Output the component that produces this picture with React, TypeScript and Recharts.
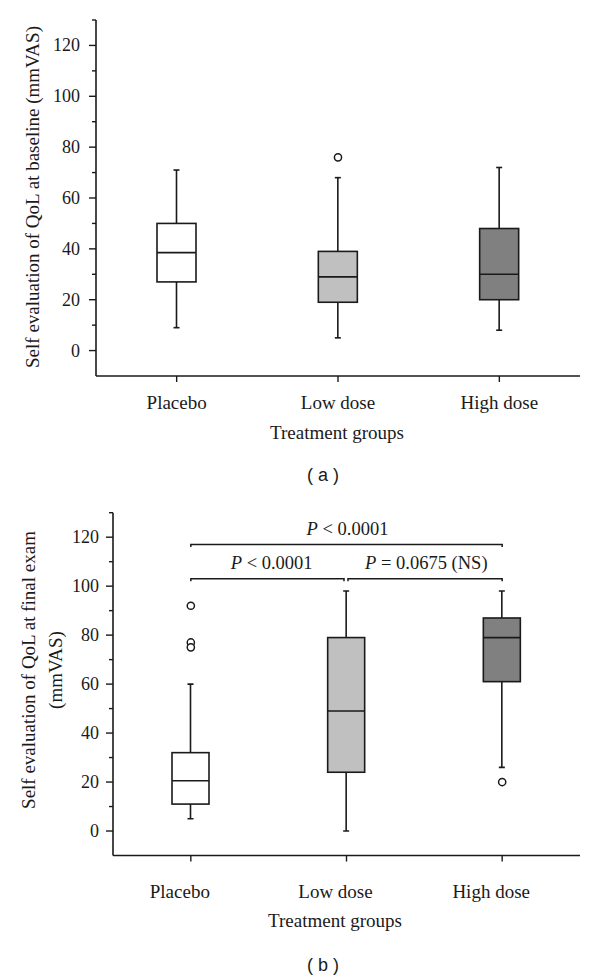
import React from 'react';
import { ComposedChart, Bar, Scatter, XAxis, YAxis, ReferenceLine } from 'recharts';

// ---------- data ----------
const groups = ['Placebo', 'Low dose', 'High dose'];

// Panel (a): baseline
const baselineMin = [9, 5, 8];
const baselineQ1 = [27, 19, 20];
const baselineMedian = [38.5, 29, 30];
const baselineQ3 = [50, 39, 48];
const baselineMax = [71, 68, 72];
const baselineOutliers = [{ name: 'Low dose', value: 76 }];

// Panel (b): final exam
const finalMin = [5, 0, 26];
const finalQ1 = [11, 24, 61];
const finalMedian = [20.5, 49, 79];
const finalQ3 = [32, 79, 87];
const finalMax = [60, 98, 98];
const finalOutliers = [
  { name: 'Placebo', value: 92 },
  { name: 'Placebo', value: 77 },
  { name: 'Placebo', value: 75 },
  { name: 'High dose', value: 20 },
];

const yTicks = [0, 10, 20, 30, 40, 50, 60, 70, 80, 90, 100, 110, 120, 130];
const yDomain = [-10, 130];

const brackets = [
  { from: 'Placebo', to: 'High dose', y: 117, op: '< 0.0001' },
  { from: 'Placebo', to: 'Low dose', y: 103, op: '< 0.0001' },
  { from: 'Low dose', to: 'High dose', y: 103, op: '= 0.0675 (NS)' },
];

// ---------- styles ----------
const boxFills = ['#ffffff', '#c0c0c0', '#808080'];
const INK = '#1a1a1a';
const SERIF = '"Liberation Serif", "Times New Roman", serif';
const SANS = '"Liberation Sans", Arial, sans-serif';
const FS_TICK = 18;
const FS_LABEL = 19;

const buildRows = (mn: number[], q1: number[], md: number[], q3: number[], mx: number[]) =>
  groups.map((name, i) => ({
    name,
    range: [mn[i], mx[i]],
    min: mn[i],
    q1: q1[i],
    median: md[i],
    q3: q3[i],
    max: mx[i],
  }));

const baselineRows = buildRows(baselineMin, baselineQ1, baselineMedian, baselineQ3, baselineMax);
const finalRows = buildRows(finalMin, finalQ1, finalMedian, finalQ3, finalMax);

const BoxShape = (props: any) => {
  const { x, y, width, height, index } = props;
  const p = props.payload ?? props;
  const top = Math.min(y, y + height);
  const h = Math.abs(height);
  const ppu = h / (p.max - p.min);
  const Y = (v: number) => top + (p.max - v) * ppu;
  const cx = x + width / 2;
  const cap = 3;
  return (
    <g stroke={INK} strokeWidth={1.6} fill="none">
      <line x1={cx} x2={cx} y1={Y(p.max)} y2={Y(p.q3)} />
      <line x1={cx} x2={cx} y1={Y(p.q1)} y2={Y(p.min)} />
      <line x1={cx - cap} x2={cx + cap} y1={Y(p.max)} y2={Y(p.max)} />
      <line x1={cx - cap} x2={cx + cap} y1={Y(p.min)} y2={Y(p.min)} />
      <rect
        x={x}
        y={Y(p.q3)}
        width={width}
        height={Y(p.q1) - Y(p.q3)}
        fill={boxFills[index] ?? '#fff'}
      />
      <line x1={x} x2={x + width} y1={Y(p.median)} y2={Y(p.median)} />
    </g>
  );
};

const OutlierShape = (props: any) => {
  const { cx, cy } = props;
  return <circle cx={cx} cy={cy} r={3.6} fill="#fff" stroke={INK} strokeWidth={1.5} />;
};

const makeYTick = (labelGap: number) => (props: any) => {
  const { x, y, payload } = props;
  const v = payload.value;
  const major = v % 20 === 0 && v >= 0 && v <= 120;
  return (
    <g>
      <line x1={x - (major ? 7 : 4)} x2={x} y1={y} y2={y} stroke={INK} strokeWidth={1.4} />
      {major && (
        <text
          x={x - labelGap}
          y={y}
          textAnchor="end"
          dominantBaseline="central"
          fontFamily={SERIF}
          fontSize={FS_TICK}
          fill={INK}
        >
          {v}
        </text>
      )}
    </g>
  );
};

const makeXTick = (dy: number, dx: number) => (props: any) => {
  const { x, y, payload } = props;
  return (
    <g>
      <line x1={x} x2={x} y1={y} y2={y + 6} stroke={INK} strokeWidth={1.4} />
      <text
        x={x + dx}
        y={y + dy}
        textAnchor="middle"
        dominantBaseline="central"
        fontFamily={SERIF}
        fontSize={FS_LABEL}
        fill={INK}
      >
        {payload.value}
      </text>
    </g>
  );
};

const makeXLabel = (titleDy: number, panelDy: number, titleX: number, panelX: number, panel: string) =>
  (props: any) => {
    const vb = props.viewBox || {};
    return (
      <g>
        <text
          x={titleX}
          y={vb.y + titleDy}
          textAnchor="middle"
          dominantBaseline="central"
          fontFamily={SERIF}
          fontSize={FS_LABEL}
          fill={INK}
        >
          Treatment groups
        </text>
        <text
          x={panelX}
          y={vb.y + panelDy}
          textAnchor="middle"
          dominantBaseline="central"
          fontFamily={SANS}
          fontSize={18}
          fill={INK}
          style={{ whiteSpace: 'pre' }}
        >
          {panel}
        </text>
      </g>
    );
  };

const makeYLabel = (lines: string[], xs: number[], cy: number) => (props: any) => (
  <g>
    {lines.map((ln, i) => (
      <text
        key={i}
        x={xs[i]}
        y={cy}
        transform={`rotate(-90 ${xs[i]} ${cy})`}
        textAnchor="middle"
        dominantBaseline="central"
        fontFamily={SERIF}
        fontSize={FS_LABEL}
        fill={INK}
      >
        {ln}
      </text>
    ))}
  </g>
);

const makeBracketShape = (trimLeft: number, trimRight: number) => (props: any) => {
  const { x1, x2, y1 } = props;
  const a = Math.min(x1, x2) + trimLeft;
  const b = Math.max(x1, x2) - trimRight;
  return (
    <path
      d={`M${a},${y1 + 2.5} L${a},${y1} L${b},${y1} L${b},${y1 + 2.5}`}
      stroke={INK}
      strokeWidth={1.5}
      fill="none"
    />
  );
};

const makeBracketLabel = (op: string, dx: number) => (props: any) => {
  const vb = props.viewBox || {};
  const cx = vb.x + (vb.width || 0) / 2 + dx;
  return (
    <text
      x={cx}
      y={vb.y - 16}
      textAnchor="middle"
      dominantBaseline="central"
      fontFamily={SERIF}
      fontSize={18.5}
      fill={INK}
    >
      <tspan fontStyle="italic">P</tspan>
      {' ' + op}
    </text>
  );
};

const bracketTrims = [
  [0, 0],
  [0, 2.5],
  [1.5, 0],
];
const bracketLabelDx = [1, 3, 2];

export default function App() {
  return (
    <div style={{ position: 'absolute', left: 0, top: 0, width: 600, height: 980, background: '#fff' }}>
      {/* Panel (a) */}
      <div style={{ position: 'absolute', left: 0, top: 0 }}>
        <ComposedChart
          width={600}
          height={488}
          data={baselineRows}
          margin={{ top: 20, right: 20, bottom: 52, left: 0 }}
        >
          <XAxis
            dataKey="name"
            type="category"
            allowDuplicatedCategory={false}
            height={60}
            axisLine={{ stroke: INK, strokeWidth: 1.6 }}
            tickLine={false}
            tickSize={0}
            tickMargin={0}
            tick={makeXTick(26, 0)}
            interval={0}
            label={{ content: makeXLabel(56, 99, 337, 323, '( a )') }}
          />
          <YAxis
            type="number"
            domain={yDomain}
            allowDataOverflow
            ticks={yTicks}
            width={96}
            axisLine={{ stroke: INK, strokeWidth: 1.6 }}
            tickLine={false}
            tickSize={0}
            tickMargin={0}
            tick={makeYTick(16)}
            interval={0}
            label={{
              content: makeYLabel(['Self evaluation of QoL at baseline (mmVAS)'], [32], 197),
            }}
          />
          <Bar dataKey="range" barSize={39} isAnimationActive={false} shape={BoxShape} />
          <Scatter
            data={baselineOutliers}
            dataKey="value"
            isAnimationActive={false}
            shape={OutlierShape}
          />
        </ComposedChart>
      </div>

      {/* Panel (b) */}
      <div style={{ position: 'absolute', left: 0, top: 488 }}>
        <ComposedChart
          width={600}
          height={492}
          data={finalRows}
          margin={{ top: 24.7, right: 20, bottom: 64.5, left: 0 }}
        >
          <XAxis
            dataKey="name"
            type="category"
            allowDuplicatedCategory={false}
            height={60}
            axisLine={{ stroke: INK, strokeWidth: 1.6 }}
            tickLine={false}
            tickSize={0}
            tickMargin={0}
            tick={makeXTick(36, -11)}
            interval={0}
            label={{ content: makeXLabel(64.5, 109.5, 335, 323, '( b )') }}
          />
          <YAxis
            type="number"
            domain={yDomain}
            allowDataOverflow
            ticks={yTicks}
            width={113}
            axisLine={{ stroke: INK, strokeWidth: 1.6 }}
            tickLine={false}
            tickSize={0}
            tickMargin={0}
            tick={makeYTick(14)}
            interval={0}
            label={{
              content: makeYLabel(
                ['Self evaluation of QoL at final exam', '(mmVAS)'],
                [28, 55],
                182
              ),
            }}
          />
          <Bar dataKey="range" barSize={37} isAnimationActive={false} shape={BoxShape} />
          <Scatter
            data={finalOutliers}
            dataKey="value"
            isAnimationActive={false}
            shape={OutlierShape}
          />
          {brackets.map((b, i) => (
            <ReferenceLine
              key={i}
              segment={[
                { x: b.from, y: b.y },
                { x: b.to, y: b.y },
              ]}
              shape={makeBracketShape(bracketTrims[i][0], bracketTrims[i][1])}
              label={{ content: makeBracketLabel(b.op, bracketLabelDx[i]) }}
              ifOverflow="visible"
            />
          ))}
        </ComposedChart>
      </div>
    </div>
  );
}
